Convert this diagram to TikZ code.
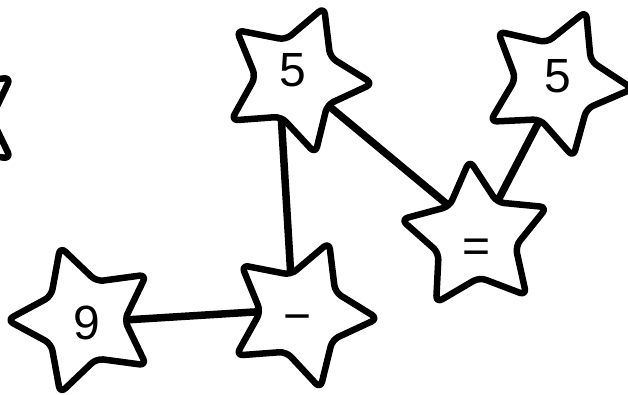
\documentclass[tikz,border=0pt]{standalone}
\usepackage{fontspec}
\setmainfont{Liberation Sans}
\usetikzlibrary{shapes.geometric,backgrounds}
\begin{document}
\begin{tikzpicture}[x=1pt,y=-1pt,
  starbox/.style={star, star points=5, star point ratio=1.9, minimum size=154pt,
    inner sep=0pt, outer sep=0pt, draw=black, fill=white, line width=6.5pt,
    rounded corners=7pt, line join=round},
  lbl/.style={inner sep=0pt, font=\fontsize{48}{56}\selectfont},
  conn/.style={draw=black, line width=7.5pt}]
\useasboundingbox (0,0) rectangle (628,394);
\node[starbox, minimum size=138pt, shape border rotate=18] (sL) at (-45,118) {};
\node[starbox, shape border rotate=-21.4] (sA) at (296,79) {};
\node[starbox, shape border rotate=-23] (sD) at (556,82) {};
\node[starbox, shape border rotate=4.8] (sC) at (476,237) {};
\node[starbox, shape border rotate=-21.4] (sB) at (301,314) {};
\node[starbox, shape border rotate=18] (sE) at (84,320) {};
\node[lbl] (lA) at (293,70) {5};
\node[lbl] (lD) at (558,76) {5};
\node[lbl] (lC) at (477,251) {=};
\node[lbl] (lB) at (298,324) {−};
\node[lbl] (lE) at (87,323) {9};
\begin{scope}[on background layer]
\draw[conn] (sA.inner point 3) -- (sB.inner point 1);
\draw[conn] (sA.inner point 4) -- (sC.inner point 1);
\draw[conn] (sC.inner point 5) -- (sD.inner point 3);
\draw[conn] (sE.inner point 4) -- (sB.inner point 2);
\end{scope}
\end{tikzpicture}
\end{document}
